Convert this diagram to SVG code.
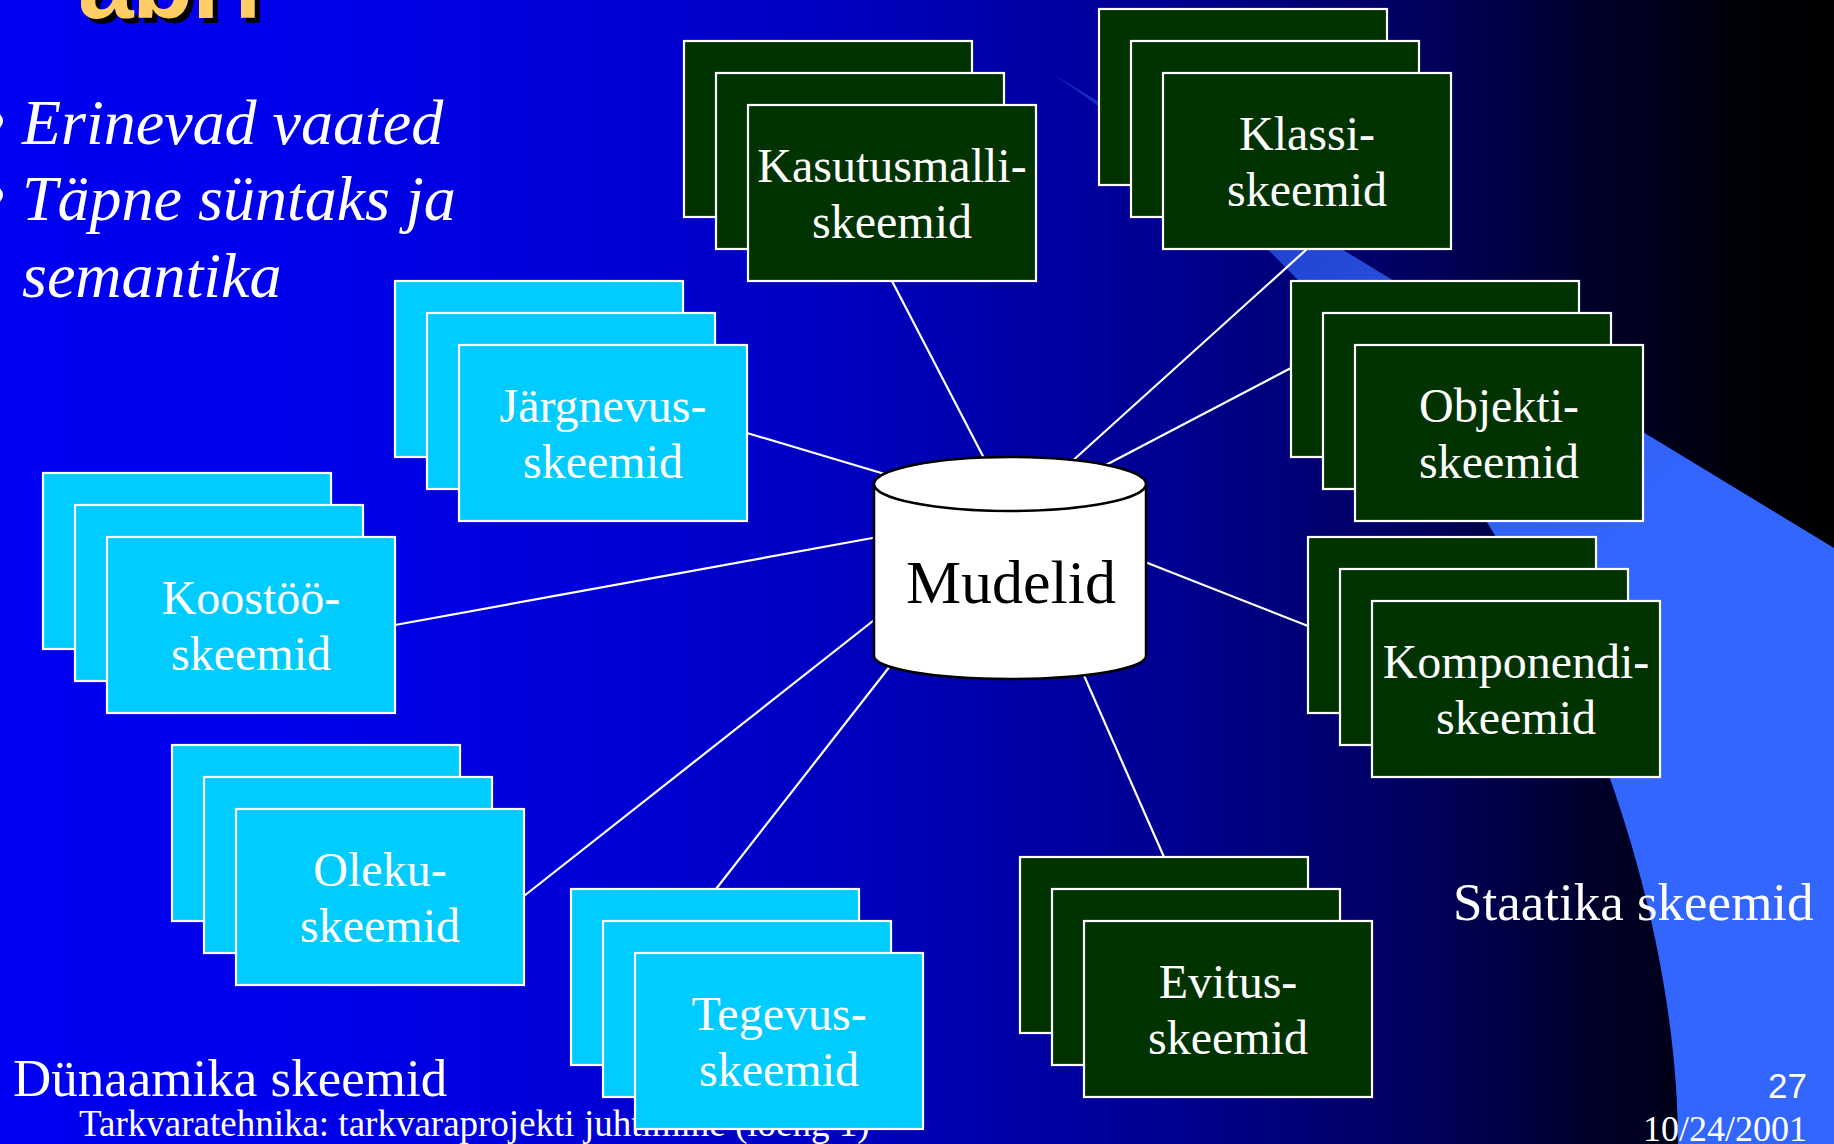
<svg xmlns="http://www.w3.org/2000/svg" width="1834" height="1144" viewBox="0 0 1834 1144">
<defs>
<linearGradient id="bg" x1="0" y1="0" x2="1834" y2="0" gradientUnits="userSpaceOnUse">
<stop offset="0" stop-color="#0000f2"/>
<stop offset="0.14" stop-color="#0000ee"/>
<stop offset="0.32" stop-color="#0000d8"/>
<stop offset="0.48" stop-color="#0000bb"/>
<stop offset="0.64" stop-color="#000090"/>
<stop offset="0.77" stop-color="#000060"/>
<stop offset="0.86" stop-color="#000030"/>
<stop offset="0.95" stop-color="#000008"/>
<stop offset="1" stop-color="#000000"/>
</linearGradient>
<linearGradient id="band" x1="1050" y1="72" x2="1620" y2="560" gradientUnits="userSpaceOnUse">
<stop offset="0" stop-color="#3366ff" stop-opacity="0.35"/>
<stop offset="0.4" stop-color="#3366ff" stop-opacity="0.68"/>
<stop offset="0.8" stop-color="#3366ff" stop-opacity="0.93"/>
<stop offset="1" stop-color="#3366ff" stop-opacity="1"/>
</linearGradient>
</defs>
<style>
.g rect{fill:#003300;stroke:#ffffff;stroke-width:2.2}
.c rect{fill:#00ccff;stroke:#ffffff;stroke-width:2.2}
.lbl{font-family:"Liberation Serif","Times New Roman",serif;font-size:48px;fill:#ffffff;text-anchor:middle}
.bul{font-family:"Liberation Serif","Times New Roman",serif;font-style:italic;font-size:64px;fill:#ffffff}
.cap{font-family:"Liberation Serif","Times New Roman",serif;font-size:53px;fill:#ffffff}
#connectors line{stroke:#ffffff;stroke-width:2.2}
</style>
<rect x="0" y="0" width="1834" height="1144" fill="url(#bg)"/>
<path d="M1050,72 L1834,548 L1834,1144 L1678,1144 C1678,900 1560,420 1050,72 Z" fill="url(#band)"/>
<g id="title" font-family="'Liberation Sans',Arial,sans-serif" font-weight="bold" font-size="100">
<text x="83 137 197 239" y="23" fill="#000000">abil</text>
<text x="78 132 192 234" y="18" fill="#ffcc66">abil</text>
</g>
<g id="bullets">
<circle cx="-6" cy="121" r="9" fill="#ffffff"/>
<circle cx="-6" cy="195" r="9" fill="#ffffff"/>
<text class="bul" x="22" y="144">Erinevad vaated</text>
<text class="bul" x="22" y="220">Täpne süntaks ja</text>
<text class="bul" x="22" y="297">semantika</text>
</g>
<g id="connectors">
<line x1="892" y1="281" x2="986" y2="462"/>
<line x1="1307" y1="249" x2="1069" y2="464"/>
<line x1="1291" y1="368" x2="1102" y2="467"/>
<line x1="1145" y1="562" x2="1308" y2="626"/>
<line x1="1082" y1="671" x2="1164" y2="857"/>
<line x1="894" y1="661" x2="716" y2="889"/>
<line x1="878" y1="617" x2="524" y2="896"/>
<line x1="878" y1="537" x2="395" y2="625"/>
<line x1="747" y1="433" x2="888" y2="475"/>
</g>
<text id="footer" x="79" y="1136" font-family="'Liberation Serif','Times New Roman',serif" font-size="37" fill="#ffffff">Tarkvaratehnika: tarkvaraprojekti juhtimine (loeng 1)</text>
<g id="kasutusmalli" class="g">
<rect x="684" y="41" width="288" height="176"/><rect x="716" y="73" width="288" height="176"/><rect x="748" y="105" width="288" height="176"/>
<text class="lbl" x="892" y="182">Kasutusmalli-</text><text class="lbl" x="892" y="238">skeemid</text>
</g>
<g id="klassi" class="g">
<rect x="1099" y="9" width="288" height="176"/><rect x="1131" y="41" width="288" height="176"/><rect x="1163" y="73" width="288" height="176"/>
<text class="lbl" x="1307" y="150">Klassi-</text><text class="lbl" x="1307" y="206">skeemid</text>
</g>
<g id="objekti" class="g">
<rect x="1291" y="281" width="288" height="176"/><rect x="1323" y="313" width="288" height="176"/><rect x="1355" y="345" width="288" height="176"/>
<text class="lbl" x="1499" y="422">Objekti-</text><text class="lbl" x="1499" y="478">skeemid</text>
</g>
<g id="komponendi" class="g">
<rect x="1308" y="537" width="288" height="176"/><rect x="1340" y="569" width="288" height="176"/><rect x="1372" y="601" width="288" height="176"/>
<text class="lbl" x="1516" y="678">Komponendi-</text><text class="lbl" x="1516" y="734">skeemid</text>
</g>
<g id="evitus" class="g">
<rect x="1020" y="857" width="288" height="176"/><rect x="1052" y="889" width="288" height="176"/><rect x="1084" y="921" width="288" height="176"/>
<text class="lbl" x="1228" y="998">Evitus-</text><text class="lbl" x="1228" y="1054">skeemid</text>
</g>
<g id="tegevus" class="c">
<rect x="571" y="889" width="288" height="176"/><rect x="603" y="921" width="288" height="176"/><rect x="635" y="953" width="288" height="176"/>
<text class="lbl" x="779" y="1030">Tegevus-</text><text class="lbl" x="779" y="1086">skeemid</text>
</g>
<g id="oleku" class="c">
<rect x="172" y="745" width="288" height="176"/><rect x="204" y="777" width="288" height="176"/><rect x="236" y="809" width="288" height="176"/>
<text class="lbl" x="380" y="886">Oleku-</text><text class="lbl" x="380" y="942">skeemid</text>
</g>
<g id="koostoo" class="c">
<rect x="43" y="473" width="288" height="176"/><rect x="75" y="505" width="288" height="176"/><rect x="107" y="537" width="288" height="176"/>
<text class="lbl" x="251" y="614">Koostöö-</text><text class="lbl" x="251" y="670">skeemid</text>
</g>
<g id="jargnevus" class="c">
<rect x="395" y="281" width="288" height="176"/><rect x="427" y="313" width="288" height="176"/><rect x="459" y="345" width="288" height="176"/>
<text class="lbl" x="603" y="422">Järgnevus-</text><text class="lbl" x="603" y="478">skeemid</text>
</g>
<g id="mudelid">
<path d="M874,484 V656 A136,23 0 0 0 1146,656 V484 Z" fill="#ffffff" stroke="#000000" stroke-width="2.5"/>
<ellipse cx="1010" cy="484" rx="136" ry="27" fill="#ffffff" stroke="#000000" stroke-width="2.5"/>
<text x="1011" y="603" font-family="'Liberation Serif','Times New Roman',serif" font-size="62" fill="#000000" text-anchor="middle">Mudelid</text>
</g>
<text id="dynaamika" class="cap" x="13" y="1096">Dünaamika skeemid</text>
<text id="staatika" class="cap" x="1453" y="920">Staatika skeemid</text>
<text id="pagenum" x="1807" y="1098" font-family="'Liberation Sans',Arial,sans-serif" font-size="35" fill="#ffffff" text-anchor="end">27</text>
<text id="date" x="1807" y="1141" font-family="'Liberation Serif','Times New Roman',serif" font-size="36" fill="#ffffff" text-anchor="end">10/24/2001</text>
</svg>
